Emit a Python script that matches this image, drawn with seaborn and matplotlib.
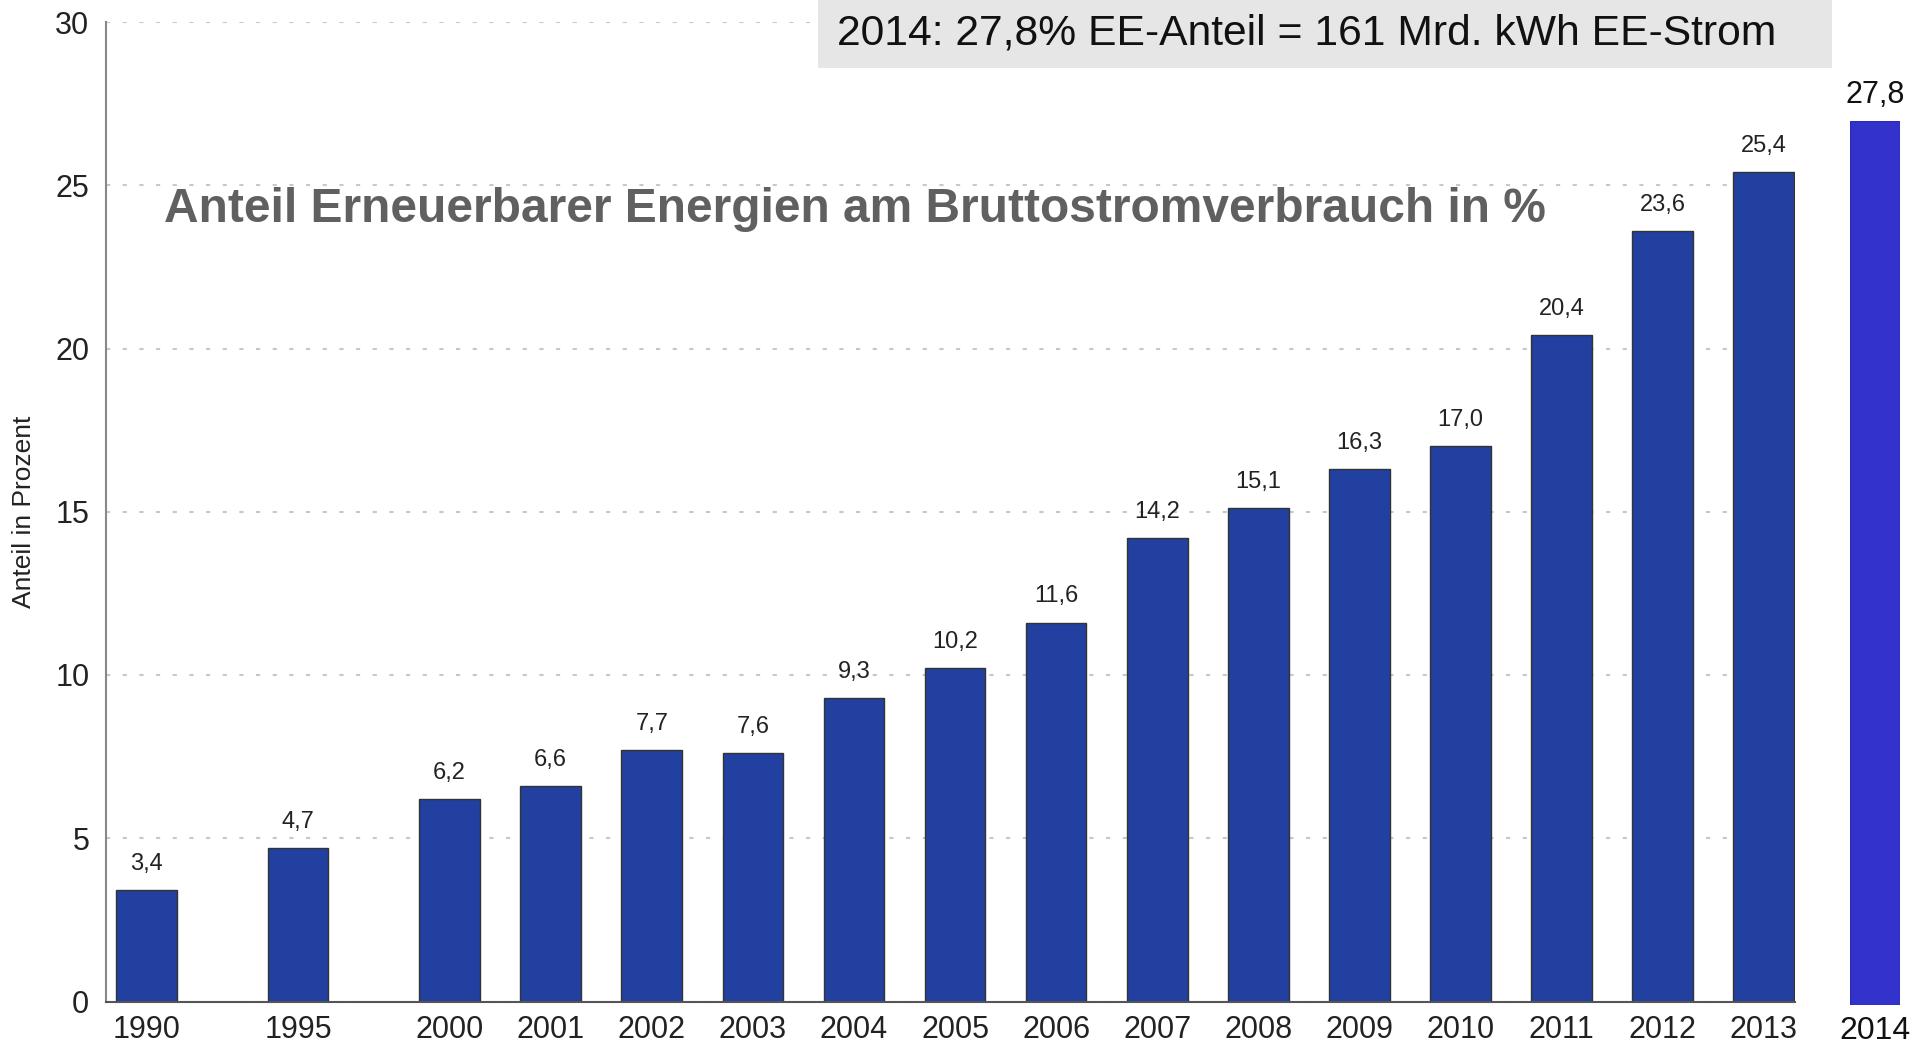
import numpy as np
import pandas as pd
import matplotlib
matplotlib.use('Agg')
import matplotlib.pyplot as plt
import seaborn as sns

# Data
years = [1990, 1995, 2000, 2001, 2002, 2003, 2004, 2005, 2006, 2007,
         2008, 2009, 2010, 2011, 2012, 2013]
share = [3.4, 4.7, 6.2, 6.6, 7.7, 7.6, 9.3, 10.2, 11.6, 14.2,
         15.1, 16.3, 17.0, 20.4, 23.6, 25.4]
year_2014 = ['2014']
share_2014 = [27.8]

title = 'Anteil Erneuerbarer Energien am Bruttostromverbrauch in %'
box_text = '2014: 27,8% EE-Anteil = 161 Mrd. kWh EE-Strom'
y_label = 'Anteil in Prozent'


# compressed axis before 2000: 5-year steps take 1.5 slots
def year_pos(y):
    return (y - 1990) * 0.3 if y < 2000 else 3 + (y - 2000)


df = pd.DataFrame({'Jahr': years, 'Anteil': share})
df['pos'] = df['Jahr'].apply(year_pos)

sns.set_style('white')
plain = ['Liberation Sans', 'DejaVu Sans']
plt.rcParams['font.family'] = plain

bar_color = '#2140A0'

fig = plt.figure(figsize=(19.15, 10.45), dpi=100)
ax = fig.add_axes([106 / 1915, 43.5 / 1045, (1795 - 106) / 1915, (1001.5 - 22) / 1045])

sns.barplot(data=df, x='pos', y='Anteil', native_scale=True, width=0.6,
            color=bar_color, saturation=1, edgecolor='#333333', linewidth=1, ax=ax)

ax.set_xlim(-0.4, 16.31)
ax.set_ylim(0, 30)
ax.set_yticks(range(0, 31, 5))
ax.set_xticks(df['pos'])
ax.set_xticklabels([str(y) for y in years])
ax.set_xlabel('')
ax.set_ylabel(y_label, fontsize=19, color='#222222', labelpad=14)

ax.grid(axis='y', linestyle=(0, (2, 6)), color='#c8c8c8', linewidth=1.5)
ax.set_axisbelow(True)

for side in ['top', 'right']:
    ax.spines[side].set_visible(False)
ax.spines['left'].set_color('#888888')
ax.spines['left'].set_linewidth(1.5)
ax.spines['bottom'].set_color('#555555')
ax.spines['bottom'].set_linewidth(1.5)

ax.tick_params(axis='y', direction='in', length=10, width=2, color='#777777',
               labelsize=22, labelcolor='#222222', pad=12)
ax.tick_params(axis='x', length=0, labelsize=22, labelcolor='#222222', pad=10)

# value labels
for p, v in zip(df['pos'], df['Anteil']):
    ax.annotate(f'{v:.1f}'.replace('.', ','), (p, v), xytext=(0, 11),
                textcoords='offset points', ha='center', va='bottom',
                fontsize=17, color='#222222')

# title inside plot
fig.text(164 / 1915, 1 - 210 / 1045, title, fontsize=34.5, fontweight='bold',
         color='#606060', ha='left', va='center')

# grey info box
fig.patches.append(plt.Rectangle((818 / 1915, 1 - 68 / 1045), (1832 - 818) / 1915, 68 / 1045,
                                 transform=fig.transFigure, facecolor='#e6e6e6',
                                 edgecolor='none', zorder=0))
fig.text(837 / 1915, 1 - 34 / 1045, box_text, fontsize=30.7, color='#111111',
         ha='left', va='center')

# separate 2014 bar
ax2 = fig.add_axes([1850 / 1915, 40 / 1045, 50 / 1915, (1005 - 121) / 1045])
sns.barplot(x=year_2014, y=share_2014, color='#3333CC', saturation=1, width=1,
            edgecolor='#2b2bb8', linewidth=1, ax=ax2)
ax2.set_xlim(-0.5, 0.5)
ax2.set_ylim(0, share_2014[0])
ax2.axis('off')
ax2.annotate(f'{share_2014[0]:.1f}'.replace('.', ','), (0, share_2014[0]),
             xytext=(0, 8), textcoords='offset points', ha='center',
             va='bottom', fontsize=22, color='#111111', annotation_clip=False)
ax2.text(0.5, -0.012, year_2014[0], ha='center', va='top', fontsize=23, color='#111111',
         transform=ax2.transAxes)

fig.savefig('out.png', dpi=100)
